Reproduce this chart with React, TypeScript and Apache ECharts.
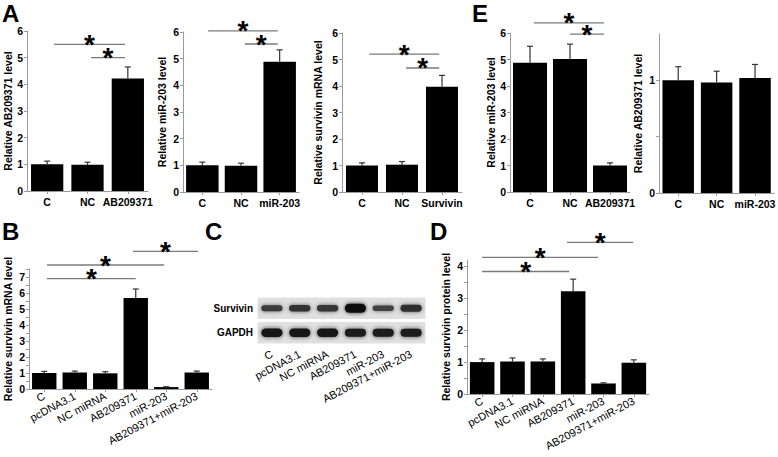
import React, { useEffect, useRef } from 'react';
import * as echarts from 'echarts';

const FONT = '"Liberation Sans", Arial, Helvetica, sans-serif';

// Panel A (left)
const catA1 = ['C', 'NC', 'AB209371'];
const valA1 = [1.0, 0.98, 4.22];
const errA1 = [1.12, 1.08, 4.65];
const sigA1 = [[0.17, 1.93, 5.5], [1.09, 1.93, 5.0]];
// Panel A (middle)
const catA2 = ['C', 'NC', 'miR-203'];
const valA2 = [1.0, 0.98, 4.88];
const errA2 = [1.12, 1.08, 5.33];
const sigA2 = [[0.15, 1.95, 6.04], [1.1, 1.95, 5.55]];
// Panel A (right)
const catA3 = ['C', 'NC', 'Survivin'];
const valA3 = [1.0, 1.03, 3.97];
const errA3 = [1.1, 1.15, 4.4];
const sigA3 = [[0.18, 1.93, 5.2], [1.1, 1.93, 4.68]];
// Panel E (left)
const catE1 = ['C', 'NC', 'AB209371'];
const valE1 = [4.88, 5.02, 1.0];
const errE1 = [5.5, 5.58, 1.1];
const sigE1 = [[0.1, 1.85, 6.38], [1.0, 1.85, 5.96]];
// Panel E (right)
const catE2 = ['C', 'NC', 'miR-203'];
const valE2 = [1.0, 0.98, 1.02];
const errE2 = [1.12, 1.08, 1.14];
// Panel B
const catB = ['C', 'pcDNA3.1', 'NC miRNA', 'AB209371', 'miR-203', 'AB209371+miR-203'];
const valB = [1.0, 1.03, 0.98, 5.68, 0.12, 1.03];
const errB = [1.1, 1.12, 1.08, 6.25, 0.14, 1.12];
const sigB = [[0.09, 3.0, 6.9], [0.09, 3.93, 7.75], [2.91, 5.04, 8.6]];
// Panel D
const valD = [1.0, 1.02, 1.02, 3.22, 0.33, 0.98];
const errD = [1.1, 1.13, 1.1, 3.6, 0.35, 1.07];
const sigD = [[0, 2.87, 3.84], [0, 3.82, 4.28], [2.8, 4.98, 4.75]];
// Panel C (gel)
const gelRows = ['GAPDH', 'Survivin'];
const survivinBand = [0.5, 0.6, 0.55, 1.0, 0.4, 0.65];
const gapdhBand = [0.95, 0.9, 0.88, 0.85, 0.85, 0.87];

const ticksInt6 = [0, 1, 2, 3, 4, 5, 6];
const ticksE2 = [0, 0.5, 1];
const labelsE2 = [0, 1];
const ticksB = [0, 0.5, 1, 1.5, 2, 2.5, 3, 3.5, 4, 4.5, 5, 5.5, 6, 6.5, 7, 7.5];
const labelsB = [0, 1, 2, 3, 4, 5, 6, 7];
const ticksD = [0, 0.5, 1, 1.5, 2, 2.5, 3, 3.5, 4];
const labelsD = [0, 1, 2, 3, 4];

type Panel = {
  grid: { left: number; top: number; width: number; height: number };
  cats: string[];
  vals: number[];
  errs: number[];
  sig: number[][];
  max: number;
  labelVals: number[];
  tickVals: number[];
  name: string;
  nameGap: number;
  gap: string;
  rotate: boolean;
};

const panels: Panel[] = [
  { grid: { left: 27, top: 31, width: 121, height: 160 }, cats: catA1, vals: valA1, errs: errA1, sig: sigA1, max: 6, labelVals: ticksInt6, tickVals: ticksInt6, name: 'Relative AB209371 level', nameGap: 14, gap: '20%', rotate: false },
  { grid: { left: 183, top: 32, width: 116, height: 160 }, cats: catA2, vals: valA2, errs: errA2, sig: sigA2, max: 6, labelVals: ticksInt6, tickVals: ticksInt6, name: 'Relative miR-203 level', nameGap: 16, gap: '16%', rotate: false },
  { grid: { left: 342, top: 33, width: 120, height: 159 }, cats: catA3, vals: valA3, errs: errA3, sig: sigA3, max: 6, labelVals: ticksInt6, tickVals: ticksInt6, name: 'Relative survivin mRNA level', nameGap: 19, gap: '20%', rotate: false },
  { grid: { left: 510, top: 33, width: 120, height: 159 }, cats: catE1, vals: valE1, errs: errE1, sig: sigE1, max: 6, labelVals: ticksInt6, tickVals: ticksInt6, name: 'Relative miR-203 level', nameGap: 14, gap: '15%', rotate: false },
  { grid: { left: 659, top: 34, width: 118, height: 159 }, cats: catE2, vals: valE2, errs: errE2, sig: [], max: 1.41, labelVals: labelsE2, tickVals: ticksE2, name: 'Relative AB209371 level', nameGap: 16, gap: '18%', rotate: false },
  { grid: { left: 29, top: 269, width: 183, height: 120 }, cats: catB, vals: valB, errs: errB, sig: sigB, max: 7.5, labelVals: labelsB, tickVals: ticksB, name: 'Relative survivin mRNA level', nameGap: 16, gap: '20%', rotate: true },
  { grid: { left: 467, top: 260, width: 182, height: 134 }, cats: catB, vals: valD, errs: errD, sig: sigD, max: 4.2, labelVals: labelsD, tickVals: ticksD, name: 'Relative survivin protein level', nameGap: 16, gap: '19%', rotate: true },
];

const gelGrid = { left: 258, top: 296, width: 167, height: 49 };

function makeErrorRender(vals: number[]) {
  return (params: any, api: any) => {
    const i = params.dataIndex;
    const top = api.coord([i, api.value(1)]);
    const base = api.coord([i, vals[i]]);
    const w = 3;
    return {
      type: 'group',
      children: [
        { type: 'line', shape: { x1: top[0], y1: base[1], x2: top[0], y2: top[1] }, style: { stroke: '#333', lineWidth: 1.2 } },
        { type: 'line', shape: { x1: top[0] - w, y1: top[1], x2: top[0] + w, y2: top[1] }, style: { stroke: '#333', lineWidth: 1.2 } },
      ],
    };
  };
}

function sigRender(_params: any, api: any) {
  const a = api.coord([api.value(0), api.value(2)]);
  const b = api.coord([api.value(1), api.value(2)]);
  return {
    type: 'group',
    children: [
      { type: 'line', shape: { x1: a[0], y1: a[1], x2: b[0], y2: b[1] }, style: { stroke: '#7a7a7a', lineWidth: 1.3 } },
      {
        type: 'text',
        x: (a[0] + b[0]) / 2,
        y: a[1],
        style: { text: '*', fontSize: 28, fontWeight: 'bold', fill: '#000', align: 'center', verticalAlign: 'middle', fontFamily: FONT },
      },
    ],
  };
}

function buildOption() {
  const grid: any[] = [];
  const xAxis: any[] = [];
  const yAxis: any[] = [];
  const series: any[] = [];
  const axisColor = '#9a9a9a';

  panels.forEach((p, gi) => {
    grid.push({ ...p.grid, containLabel: false });
    const xi = xAxis.length;
    xAxis.push({
      type: 'category',
      gridIndex: gi,
      data: p.cats,
      axisLine: { show: true, onZero: false, lineStyle: { color: axisColor, width: 1 } },
      axisTick: { show: true, alignWithLabel: true, length: 3, lineStyle: { color: axisColor } },
      axisLabel: p.rotate
        ? { interval: 0, rotate: 28, fontSize: 11, color: '#000', margin: 6, fontFamily: FONT }
        : { interval: 0, fontSize: 10.5, fontWeight: 'bold', color: '#000', margin: 5, fontFamily: FONT },
      splitLine: { show: false },
    });
    xAxis.push({ type: 'value', gridIndex: gi, min: -0.5, max: p.cats.length - 0.5, show: false, axisLine: { onZero: false } });
    const yi = yAxis.length;
    yAxis.push({
      type: 'value',
      gridIndex: gi,
      min: 0,
      max: p.max,
      axisLine: { show: true, onZero: false, lineStyle: { color: axisColor, width: 1 } },
      axisTick: { show: true, length: 3, lineStyle: { color: axisColor }, customValues: p.tickVals },
      axisLabel: { customValues: p.labelVals, fontSize: 10.5, fontWeight: 'bold', color: '#000', margin: 4, fontFamily: FONT },
      splitLine: { show: false },
      name: p.name,
      nameLocation: 'middle',
      nameRotate: 90,
      nameGap: p.nameGap,
      nameTextStyle: { fontSize: 10.5, fontWeight: 'bold', color: '#000', fontFamily: FONT },
    });
    series.push({
      type: 'bar',
      xAxisIndex: xi,
      yAxisIndex: yi,
      data: p.vals,
      barCategoryGap: p.gap,
      itemStyle: { color: '#000' },
      silent: true,
    });
    series.push({
      type: 'custom',
      xAxisIndex: xi,
      yAxisIndex: yi,
      data: p.errs.map((e, i) => [i, e]),
      encode: { x: 0, y: 1 },
      silent: true,
      clip: false,
      z: 3,
      renderItem: makeErrorRender(p.vals),
    });
    if (p.sig.length) {
      series.push({
        type: 'custom',
        xAxisIndex: xi + 1,
        yAxisIndex: yi,
        data: p.sig,
        encode: { x: [0, 1], y: 2 },
        silent: true,
        clip: false,
        z: 4,
        renderItem: sigRender,
      });
    }
  });

  // Gel panel C
  const gi = grid.length;
  grid.push({ ...gelGrid, containLabel: false });
  const gx = xAxis.length;
  xAxis.push({
    type: 'category',
    gridIndex: gi,
    data: catB,
    axisLine: { show: false, onZero: false },
    axisTick: { show: false },
    axisLabel: { interval: 0, rotate: 28, fontSize: 11, color: '#000', margin: 8, fontFamily: FONT },
  });
  const gy = yAxis.length;
  yAxis.push({
    type: 'category',
    gridIndex: gi,
    data: gelRows,
    axisLine: { show: false, onZero: false },
    axisTick: { show: false },
    axisLabel: { fontSize: 10, fontWeight: 'bold', color: '#000', margin: 5, fontFamily: FONT },
  });
  const gelData: number[][] = [];
  catB.forEach((_c, i) => {
    gelData.push([i, 1, survivinBand[i]]);
    gelData.push([i, 0, gapdhBand[i]]);
  });
  series.push({
    type: 'custom',
    xAxisIndex: gx,
    yAxisIndex: gy,
    data: gelData,
    encode: { x: 0, y: 1 },
    silent: true,
    z: 1,
    renderItem: (_params: any, api: any) => {
      const c = api.coord([api.value(0), api.value(1)]);
      const s = api.size([1, 1]);
      return {
        type: 'rect',
        shape: { x: c[0] - s[0] / 2 - 0.5, y: c[1] - s[1] / 2 + 1.5, width: s[0] + 1, height: s[1] - 3 },
        style: { fill: '#e0e0e0' },
      };
    },
  });
  series.push({
    type: 'custom',
    xAxisIndex: gx,
    yAxisIndex: gy,
    data: gelData,
    encode: { x: 0, y: 1 },
    silent: true,
    z: 2,
    renderItem: (_params: any, api: any) => {
      const c = api.coord([api.value(0), api.value(1)]);
      const s = api.size([1, 1]);
      const inten = api.value(2);
      const h = 3 + 6 * inten;
      const g = Math.round(100 - 85 * inten);
      const col = `rgb(${g},${g},${g})`;
      return {
        type: 'rect',
        shape: { x: c[0] - s[0] * 0.38, y: c[1] - h / 2, width: s[0] * 0.76, height: h, r: h / 2 },
        style: { fill: col, shadowBlur: 4, shadowColor: `rgba(${g},${g},${g},0.8)` },
      };
    },
  });

  const letter = (t: string, x: number, y: number) => ({
    type: 'text',
    x,
    y,
    style: { text: t, fontSize: 24, fontWeight: 'bold', fill: '#000', fontFamily: FONT, verticalAlign: 'top' },
  });

  return {
    animation: false,
    backgroundColor: '#fff',
    grid,
    xAxis,
    yAxis,
    series,
    graphic: [
      letter('A', 2, 1),
      letter('E', 472, 1),
      letter('B', 2, 219),
      letter('C', 205, 219),
      letter('D', 430, 219),
    ],
  };
}

export default function App() {
  const ref = useRef<HTMLDivElement>(null);
  useEffect(() => {
    if (!ref.current) return;
    const chart = echarts.init(ref.current, undefined, { renderer: 'svg' });
    chart.setOption(buildOption() as any);
    return () => chart.dispose();
  }, []);
  return (
    <div
      ref={ref}
      style={{ position: 'fixed', left: 0, top: 0, width: 778, height: 457, background: '#fff' }}
    />
  );
}
